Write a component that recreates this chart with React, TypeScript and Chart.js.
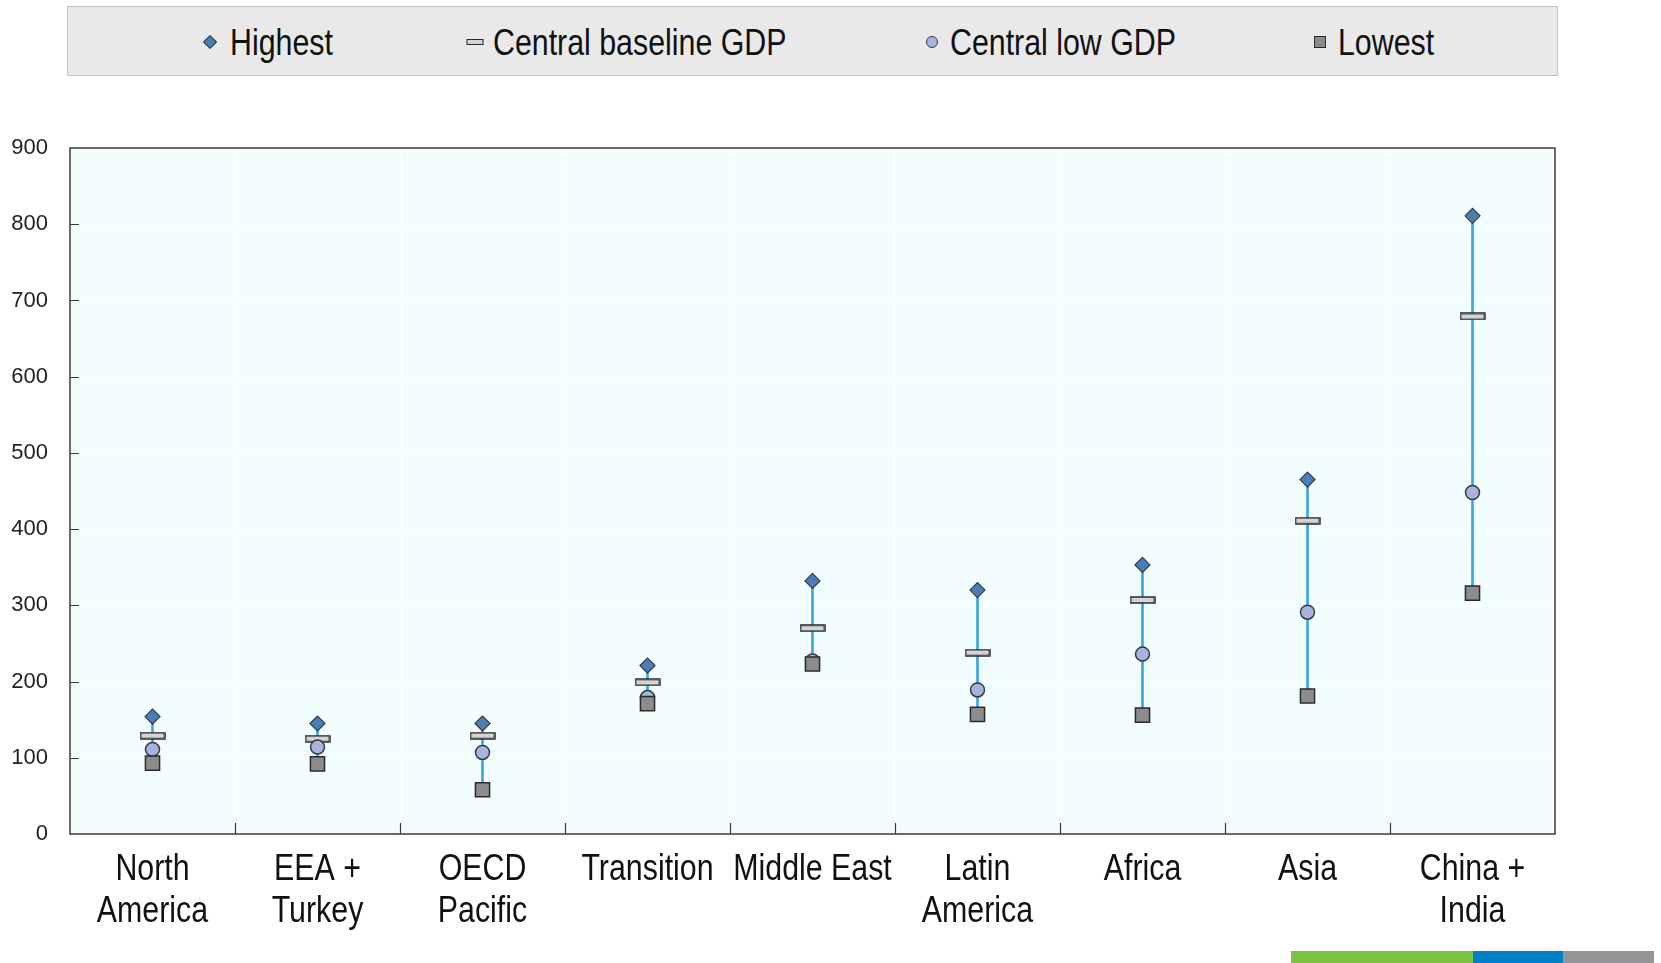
import React, { useEffect, useRef } from "react";
import { Chart, registerables } from "chart.js";

Chart.register(...registerables);

const categories: (string | string[])[] = [
  ["North", "America"],
  ["EEA +", "Turkey"],
  ["OECD", "Pacific"],
  "Transition",
  "Middle East",
  ["Latin", "America"],
  "Africa",
  "Asia",
  ["China +", "India"],
];
const highest = [154, 145, 145, 221, 332, 320, 353, 465, 811];
const centralBaseline = [129, 125, 129, 199, 270, 238, 307, 411, 679];
const centralLow = [111, 114, 107, 179, 227, 189, 236, 291, 448];
const lowest = [93, 92, 58, 171, 223, 157, 156, 181, 316];
const yTicks = [0, 100, 200, 300, 400, 500, 600, 700, 800, 900];

const SANS = '"Liberation Sans", Arial, sans-serif';
const NARROW_SCALE = 0.82;

function makeDashImage() {
  const c = document.createElement("canvas");
  c.width = 26;
  c.height = 8;
  const ctx = c.getContext("2d")!;
  ctx.fillStyle = "#d4d4d4";
  ctx.fillRect(1, 1, 24, 6);
  ctx.strokeStyle = "#2a2a2a";
  ctx.lineWidth = 1.5;
  ctx.strokeRect(1, 1, 24, 6);
  return c;
}

const framePlugin = {
  id: "frame",
  beforeDraw(chart: any) {
    const { ctx, chartArea: a } = chart;
    ctx.save();
    ctx.fillStyle = "#f2fefe";
    ctx.fillRect(a.left, a.top, a.right - a.left, a.bottom - a.top);
    ctx.restore();
  },
  afterDraw(chart: any) {
    const { ctx, chartArea: a } = chart;
    const x = chart.scales.x;
    const y = chart.scales.y;
    ctx.save();
    ctx.strokeStyle = "#3a3a3a";
    ctx.lineWidth = 1.5;
    ctx.strokeRect(a.left, a.top, a.right - a.left, a.bottom - a.top);
    ctx.lineWidth = 1.2;
    ctx.beginPath();
    for (let i = 1; i < categories.length; i++) {
      const px = (x.getPixelForValue(i - 1) + x.getPixelForValue(i)) / 2;
      ctx.moveTo(Math.round(px) + 0.5, a.bottom);
      ctx.lineTo(Math.round(px) + 0.5, a.bottom - 11);
    }
    for (const v of yTicks) {
      if (v === 0 || v === 900) continue;
      const py = Math.round(y.getPixelForValue(v)) + 0.5;
      ctx.moveTo(a.left, py);
      ctx.lineTo(a.left + 9, py);
    }
    ctx.stroke();

    // condensed category labels (Arial Narrow look)
    ctx.fillStyle = "#111";
    ctx.font = `37px ${SANS}`;
    ctx.textAlign = "center";
    ctx.textBaseline = "top";
    const labels = x.getLabels();
    labels.forEach((lab: any, i: number) => {
      const lines = Array.isArray(lab) ? lab : [lab];
      const px = x.getPixelForValue(i);
      lines.forEach((ln: string, k: number) => {
        ctx.save();
        ctx.translate(px, a.bottom + 17 + k * 41.8);
        ctx.scale(NARROW_SCALE, 1);
        ctx.fillText(ln, 0, 0);
        ctx.restore();
      });
    });
    ctx.restore();
  },
};

function LegendMarker({ kind }: { kind: string }) {
  if (kind === "diamond")
    return (
      <div
        style={{
          width: 8,
          height: 8,
          background: "#4a7ebb",
          border: "1px solid #3a3a3a",
          transform: "rotate(45deg)",
        }}
      />
    );
  if (kind === "dash")
    return <div style={{ width: 15, height: 4, background: "#d4d4d4", border: "1px solid #2a2a2a" }} />;
  if (kind === "circle")
    return (
      <div style={{ width: 10, height: 10, borderRadius: "50%", background: "#a6b4e0", border: "1px solid #3a3a3a" }} />
    );
  return <div style={{ width: 10, height: 10, background: "#8c8c8c", border: "1px solid #2a2a2a" }} />;
}

const legendItems = [
  { label: "Highest", kind: "diamond", mx: 210, tx: 230 },
  { label: "Central baseline GDP", kind: "dash", mx: 475, tx: 493 },
  { label: "Central low GDP", kind: "circle", mx: 932, tx: 950 },
  { label: "Lowest", kind: "square", mx: 1320, tx: 1338 },
];

export default function App() {
  const ref = useRef<HTMLCanvasElement>(null);
  useEffect(() => {
    const dash = makeDashImage();
    const chart = new Chart(ref.current!, {
      type: "bar",
      data: {
        labels: categories as any,
        datasets: [
          {
            type: "line",
            label: "Lowest",
            data: lowest,
            showLine: false,
            pointStyle: "rect",
            pointRadius: 10,
            backgroundColor: "#8c8c8c",
            borderColor: "#2a2a2a",
            borderWidth: 1.5,
            order: 1,
          } as any,
          {
            type: "line",
            label: "Central low GDP",
            data: centralLow,
            showLine: false,
            pointStyle: "circle",
            pointRadius: 7,
            backgroundColor: "#a6b4e0",
            borderColor: "#3a3a3a",
            borderWidth: 1.5,
            order: 2,
          },
          {
            type: "line",
            label: "Central baseline GDP",
            data: centralBaseline,
            showLine: false,
            pointStyle: dash,
            pointRadius: 8,
            order: 3,
          },
          {
            type: "line",
            label: "Highest",
            data: highest,
            showLine: false,
            pointStyle: "rectRot",
            pointRadius: 7.5,
            backgroundColor: "#4a7ebb",
            borderColor: "#3a3a3a",
            borderWidth: 1.2,
            order: 4,
          },
          {
            type: "bar",
            label: "range",
            data: lowest.map((l, i) => [l, highest[i]]) as any,
            backgroundColor: "#3aa6de",
            barThickness: 2,
            order: 5,
          },
        ],
      },
      options: {
        animation: false,
        responsive: false,
        maintainAspectRatio: false,
        layout: { padding: { top: 148, right: 106, left: 0, bottom: 0 } },
        plugins: { legend: { display: false }, tooltip: { enabled: false } },
        scales: {
          x: {
            offset: true,
            grid: { offset: true, color: "#ffffff", drawTicks: false },
            border: { display: false },
            ticks: { display: false, autoSkip: false },
            afterFit: (s: any) => {
              s.height = 129;
            },
          },
          y: {
            min: 0,
            max: 900,
            grid: { color: "#ffffff", drawTicks: false },
            border: { display: false },
            afterBuildTicks: (s: any) => {
              s.ticks = yTicks.map((v) => ({ value: v }));
            },
            ticks: {
              color: "#222",
              padding: 22,
              font: { family: SANS, size: 22 },
            },
            afterFit: (s: any) => {
              s.width = 70;
            },
          },
        },
      },
      plugins: [framePlugin],
    });
    return () => chart.destroy();
  }, []);

  return (
    <div style={{ position: "absolute", left: 0, top: 0, width: 1661, height: 963, background: "#fff" }}>
      <canvas ref={ref} width={1661} height={963} style={{ position: "absolute", left: 0, top: 0, width: 1661, height: 963 }} />
      <div
        style={{
          position: "absolute",
          left: 67,
          top: 6,
          width: 1489,
          height: 68,
          background: "#e9e9e9",
          border: "1px solid #c4c4c4",
        }}
      />
      {legendItems.map((it) => (
        <React.Fragment key={it.label}>
          <div
            style={{
              position: "absolute",
              left: it.mx,
              top: 42,
              transform: "translate(-50%, -50%)",
            }}
          >
            <LegendMarker kind={it.kind} />
          </div>
          <div
            style={{
              position: "absolute",
              left: it.tx,
              top: 42,
              transform: `translateY(-50%) scaleX(${NARROW_SCALE})`,
              transformOrigin: "left center",
              fontFamily: SANS,
              fontSize: 37,
              color: "#111",
              whiteSpace: "nowrap",
              lineHeight: 1,
            }}
          >
            {it.label}
          </div>
        </React.Fragment>
      ))}
      <div style={{ position: "absolute", left: 1291, top: 951, width: 182, height: 12, background: "#7dc243" }} />
      <div style={{ position: "absolute", left: 1473, top: 951, width: 90, height: 12, background: "#0080c6" }} />
      <div style={{ position: "absolute", left: 1563, top: 951, width: 91, height: 12, background: "#939598" }} />
    </div>
  );
}
